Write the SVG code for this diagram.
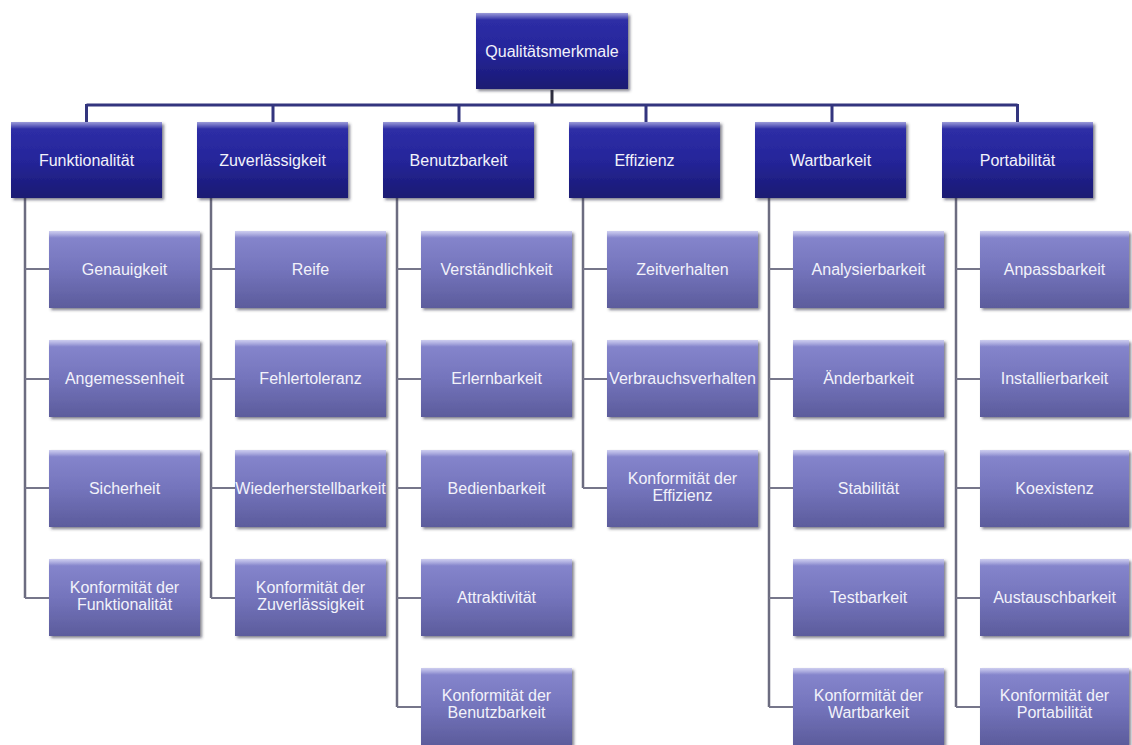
<svg xmlns="http://www.w3.org/2000/svg" width="1132" height="745" viewBox="0 0 1132 745">
  <defs>
    <linearGradient id="gDark" x1="0" y1="0" x2="0" y2="1">
      <stop offset="0" stop-color="#4646b8"/>
      <stop offset="0.08" stop-color="#2e2ea6"/>
      <stop offset="0.5" stop-color="#25259a"/>
      <stop offset="1" stop-color="#1a1a72"/>
    </linearGradient>
    <linearGradient id="gLight" x1="0" y1="0" x2="0" y2="1">
      <stop offset="0" stop-color="#a4a4e2"/>
      <stop offset="0.08" stop-color="#8585cc"/>
      <stop offset="0.5" stop-color="#7474bc"/>
      <stop offset="1" stop-color="#5c5c9c"/>
    </linearGradient>
    <linearGradient id="gloss" x1="0" y1="0" x2="0" y2="1">
      <stop offset="0" stop-color="#ffffff" stop-opacity="0.45"/>
      <stop offset="1" stop-color="#ffffff" stop-opacity="0"/>
    </linearGradient>
    <filter id="shadow" x="-5%" y="-5%" width="115%" height="120%">
      <feDropShadow dx="2" dy="2" stdDeviation="1.5" flood-color="#2a2a40" flood-opacity="0.6"/>
    </filter>
  </defs>
  <style>
    .dark { fill: url(#gDark); filter: url(#shadow); }
    .light { fill: url(#gLight); filter: url(#shadow); }
    .gl { fill: url(#gloss); }
    text { font-family: "Liberation Sans", Arial, sans-serif; font-size: 16px; fill: #f2f2fa; text-anchor: middle; }
    .bus { stroke: #33357e; stroke-width: 3; fill: none; }
    .stem { stroke: #2e2e3e; stroke-width: 3; fill: none; }
    .trunk { stroke: #6c6c80; stroke-width: 2.5; fill: none; }
    .leg { stroke: #76768a; stroke-width: 2; fill: none; }
  </style>
  <rect width="1132" height="745" fill="#ffffff"/>

  <!-- connectors -->
  <g id="connectors">
    <path class="stem" d="M552 90 V105"/>
    <path class="bus" d="M86.5 105 H1017.5"/>
    <path class="bus" d="M86.5 104 V122 M273 104 V122 M459 104 V122 M646 104 V122 M832 104 V122 M1017.5 104 V122"/>
    <!-- trunks down each column -->
    <path class="trunk" d="M25 198 V598 M211 198 V598 M397 198 V707 M583 198 V488 M769 198 V707 M956 198 V707"/>
    <!-- legs into child boxes -->
    <path class="leg" d="M25 269 H49 M25 379 H49 M25 488 H49 M25 598 H49"/>
    <path class="leg" d="M211 269 H235 M211 379 H235 M211 488 H235 M211 598 H235"/>
    <path class="leg" d="M397 269 H421 M397 379 H421 M397 488 H421 M397 598 H421 M397 707 H421"/>
    <path class="leg" d="M583 269 H607 M583 379 H607 M583 488 H607"/>
    <path class="leg" d="M769 269 H793 M769 379 H793 M769 488 H793 M769 598 H793 M769 707 H793"/>
    <path class="leg" d="M956 269 H980 M956 379 H980 M956 488 H980 M956 598 H980 M956 707 H980"/>
  </g>

  <!-- root -->
  <g id="root">
    <rect class="dark" x="476" y="13" width="152" height="76"/>
    <rect class="gl" x="476" y="13" width="152" height="7"/>
    <text x="552" y="57">Qualitätsmerkmale</text>
  </g>

  <!-- first level -->
  <g id="funktionalitaet">
    <rect class="dark" x="11" y="122" width="151" height="76"/>
    <rect class="gl" x="11" y="122" width="151" height="7"/>
    <text x="86.5" y="166">Funktionalität</text>
  </g>
  <g id="zuverlaessigkeit">
    <rect class="dark" x="197" y="122" width="151" height="76"/>
    <rect class="gl" x="197" y="122" width="151" height="7"/>
    <text x="272.5" y="166">Zuverlässigkeit</text>
  </g>
  <g id="benutzbarkeit">
    <rect class="dark" x="383" y="122" width="151" height="76"/>
    <rect class="gl" x="383" y="122" width="151" height="7"/>
    <text x="458.5" y="166">Benutzbarkeit</text>
  </g>
  <g id="effizienz">
    <rect class="dark" x="569" y="122" width="151" height="76"/>
    <rect class="gl" x="569" y="122" width="151" height="7"/>
    <text x="644.5" y="166">Effizienz</text>
  </g>
  <g id="wartbarkeit">
    <rect class="dark" x="755" y="122" width="151" height="76"/>
    <rect class="gl" x="755" y="122" width="151" height="7"/>
    <text x="830.5" y="166">Wartbarkeit</text>
  </g>
  <g id="portabilitaet">
    <rect class="dark" x="942" y="122" width="151" height="76"/>
    <rect class="gl" x="942" y="122" width="151" height="7"/>
    <text x="1017.5" y="166">Portabilität</text>
  </g>

  <!-- Funktionalität children -->
  <g id="genauigkeit">
    <rect class="light" x="49" y="231" width="151" height="77"/>
    <rect class="gl" x="49" y="231" width="151" height="7"/>
    <text x="124.5" y="275">Genauigkeit</text>
  </g>
  <g id="angemessenheit">
    <rect class="light" x="49" y="340" width="151" height="77"/>
    <rect class="gl" x="49" y="340" width="151" height="7"/>
    <text x="124.5" y="384">Angemessenheit</text>
  </g>
  <g id="sicherheit">
    <rect class="light" x="49" y="450" width="151" height="77"/>
    <rect class="gl" x="49" y="450" width="151" height="7"/>
    <text x="124.5" y="494">Sicherheit</text>
  </g>
  <g id="konf-funktionalitaet">
    <rect class="light" x="49" y="559" width="151" height="77"/>
    <rect class="gl" x="49" y="559" width="151" height="7"/>
    <text x="124.5" y="593">Konformität der</text>
    <text x="124.5" y="610">Funktionalität</text>
  </g>

  <!-- Zuverlässigkeit children -->
  <g id="reife">
    <rect class="light" x="235" y="231" width="151" height="77"/>
    <rect class="gl" x="235" y="231" width="151" height="7"/>
    <text x="310.5" y="275">Reife</text>
  </g>
  <g id="fehlertoleranz">
    <rect class="light" x="235" y="340" width="151" height="77"/>
    <rect class="gl" x="235" y="340" width="151" height="7"/>
    <text x="310.5" y="384">Fehlertoleranz</text>
  </g>
  <g id="wiederherstellbarkeit">
    <rect class="light" x="235" y="450" width="151" height="77"/>
    <rect class="gl" x="235" y="450" width="151" height="7"/>
    <text x="310.5" y="494">Wiederherstellbarkeit</text>
  </g>
  <g id="konf-zuverlaessigkeit">
    <rect class="light" x="235" y="559" width="151" height="77"/>
    <rect class="gl" x="235" y="559" width="151" height="7"/>
    <text x="310.5" y="593">Konformität der</text>
    <text x="310.5" y="610">Zuverlässigkeit</text>
  </g>

  <!-- Benutzbarkeit children -->
  <g id="verstaendlichkeit">
    <rect class="light" x="421" y="231" width="151" height="77"/>
    <rect class="gl" x="421" y="231" width="151" height="7"/>
    <text x="496.5" y="275">Verständlichkeit</text>
  </g>
  <g id="erlernbarkeit">
    <rect class="light" x="421" y="340" width="151" height="77"/>
    <rect class="gl" x="421" y="340" width="151" height="7"/>
    <text x="496.5" y="384">Erlernbarkeit</text>
  </g>
  <g id="bedienbarkeit">
    <rect class="light" x="421" y="450" width="151" height="77"/>
    <rect class="gl" x="421" y="450" width="151" height="7"/>
    <text x="496.5" y="494">Bedienbarkeit</text>
  </g>
  <g id="attraktivitaet">
    <rect class="light" x="421" y="559" width="151" height="77"/>
    <rect class="gl" x="421" y="559" width="151" height="7"/>
    <text x="496.5" y="603">Attraktivität</text>
  </g>
  <g id="konf-benutzbarkeit">
    <rect class="light" x="421" y="668" width="151" height="77"/>
    <rect class="gl" x="421" y="668" width="151" height="7"/>
    <text x="496.5" y="701">Konformität der</text>
    <text x="496.5" y="718">Benutzbarkeit</text>
  </g>

  <!-- Effizienz children -->
  <g id="zeitverhalten">
    <rect class="light" x="607" y="231" width="151" height="77"/>
    <rect class="gl" x="607" y="231" width="151" height="7"/>
    <text x="682.5" y="275">Zeitverhalten</text>
  </g>
  <g id="verbrauchsverhalten">
    <rect class="light" x="607" y="340" width="151" height="77"/>
    <rect class="gl" x="607" y="340" width="151" height="7"/>
    <text x="682.5" y="384">Verbrauchsverhalten</text>
  </g>
  <g id="konf-effizienz">
    <rect class="light" x="607" y="450" width="151" height="77"/>
    <rect class="gl" x="607" y="450" width="151" height="7"/>
    <text x="682.5" y="484">Konformität der</text>
    <text x="682.5" y="501">Effizienz</text>
  </g>

  <!-- Wartbarkeit children -->
  <g id="analysierbarkeit">
    <rect class="light" x="793" y="231" width="151" height="77"/>
    <rect class="gl" x="793" y="231" width="151" height="7"/>
    <text x="868.5" y="275">Analysierbarkeit</text>
  </g>
  <g id="aenderbarkeit">
    <rect class="light" x="793" y="340" width="151" height="77"/>
    <rect class="gl" x="793" y="340" width="151" height="7"/>
    <text x="868.5" y="384">Änderbarkeit</text>
  </g>
  <g id="stabilitaet">
    <rect class="light" x="793" y="450" width="151" height="77"/>
    <rect class="gl" x="793" y="450" width="151" height="7"/>
    <text x="868.5" y="494">Stabilität</text>
  </g>
  <g id="testbarkeit">
    <rect class="light" x="793" y="559" width="151" height="77"/>
    <rect class="gl" x="793" y="559" width="151" height="7"/>
    <text x="868.5" y="603">Testbarkeit</text>
  </g>
  <g id="konf-wartbarkeit">
    <rect class="light" x="793" y="668" width="151" height="77"/>
    <rect class="gl" x="793" y="668" width="151" height="7"/>
    <text x="868.5" y="701">Konformität der</text>
    <text x="868.5" y="718">Wartbarkeit</text>
  </g>

  <!-- Portabilität children -->
  <g id="anpassbarkeit">
    <rect class="light" x="980" y="231" width="149" height="77"/>
    <rect class="gl" x="980" y="231" width="149" height="7"/>
    <text x="1054.5" y="275">Anpassbarkeit</text>
  </g>
  <g id="installierbarkeit">
    <rect class="light" x="980" y="340" width="149" height="77"/>
    <rect class="gl" x="980" y="340" width="149" height="7"/>
    <text x="1054.5" y="384">Installierbarkeit</text>
  </g>
  <g id="koexistenz">
    <rect class="light" x="980" y="450" width="149" height="77"/>
    <rect class="gl" x="980" y="450" width="149" height="7"/>
    <text x="1054.5" y="494">Koexistenz</text>
  </g>
  <g id="austauschbarkeit">
    <rect class="light" x="980" y="559" width="149" height="77"/>
    <rect class="gl" x="980" y="559" width="149" height="7"/>
    <text x="1054.5" y="603">Austauschbarkeit</text>
  </g>
  <g id="konf-portabilitaet">
    <rect class="light" x="980" y="668" width="149" height="77"/>
    <rect class="gl" x="980" y="668" width="149" height="7"/>
    <text x="1054.5" y="701">Konformität der</text>
    <text x="1054.5" y="718">Portabilität</text>
  </g>
</svg>
